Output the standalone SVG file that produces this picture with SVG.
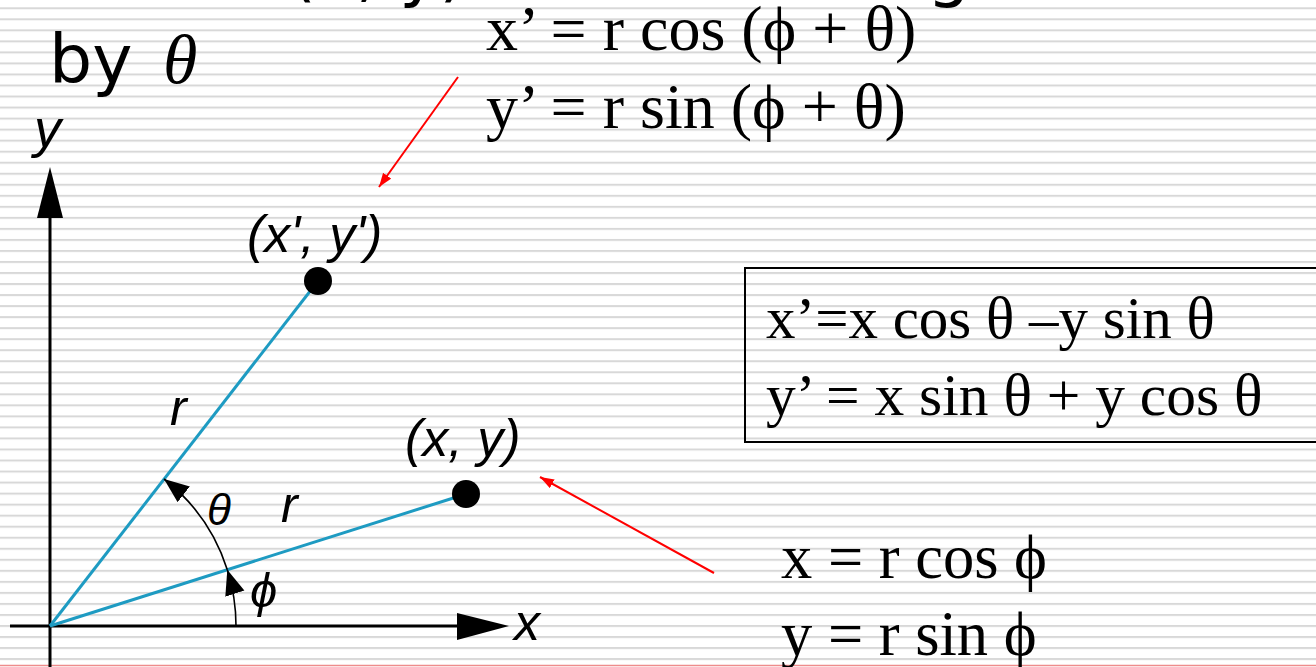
<svg xmlns="http://www.w3.org/2000/svg" width="1316" height="667" viewBox="0 0 1316 667">
  <defs>
    <pattern id="stripes" patternUnits="userSpaceOnUse" x="0" y="7.3" width="1316" height="11.03">
      <rect x="0" y="0" width="1316" height="2" fill="#d8d8d8"/>
    </pattern>
    <marker id="arcHead" markerUnits="userSpaceOnUse" markerWidth="28" markerHeight="22" refX="25" refY="10" orient="auto">
      <path d="M0,0 L25,10 L0,20 z" fill="#000"/>
    </marker>
    <marker id="redHead" markerUnits="userSpaceOnUse" markerWidth="16" markerHeight="12" refX="14" refY="5" orient="auto">
      <path d="M0,0 L14,5 L0,10 z" fill="#ff0000"/>
    </marker>
    <style>
      .title { font-family: "DejaVu Sans", Verdana, sans-serif; fill: #000; }
      .lbl { font-family: "Liberation Sans", Arial, sans-serif; font-style: italic; fill: #000; }
      .eq { font-family: "Liberation Serif", "Times New Roman", serif; fill: #000; }
      .ray { stroke: #1e9bc2; stroke-width: 3; fill: none; }
      .axis { stroke: #000; stroke-width: 3; fill: none; }
      .arc { stroke: #000; stroke-width: 1.6; fill: none; marker-end: url(#arcHead); }
      .red { stroke: #ff0000; stroke-width: 2; fill: none; marker-end: url(#redHead); }
    </style>
  </defs>

  <rect x="0" y="0" width="1316" height="667" fill="#ffffff"/>
  <rect x="0" y="0" width="1316" height="667" fill="url(#stripes)"/>
  <line x1="0" y1="665.5" x2="1316" y2="665.5" stroke="#ee8c8c" stroke-width="1.5"/>

  <g id="title">
    <text class="title" x="45" y="-6" font-size="68">Rotate (x, y) about the origin</text>
    <text class="title" x="49" y="83" font-size="68">by <tspan class="eq" font-style="italic" font-size="70" x="163">θ</tspan></text>
  </g>

  <g id="axes">
    <line class="axis" x1="50" y1="667" x2="50" y2="214"/>
    <polygon points="50,167 37,218 63,218" fill="#000"/>
    <line class="axis" x1="10" y1="626" x2="460" y2="626"/>
    <polygon points="509,626 457,613 457,640" fill="#000"/>
    <text class="lbl" x="34" y="147" font-size="54">y</text>
    <text class="lbl" x="514" y="640" font-size="52">x</text>
  </g>

  <g id="connectors">
    <line class="ray" x1="50" y1="626" x2="318" y2="281"/>
    <line class="ray" x1="50" y1="626" x2="466" y2="494"/>
    <path class="arc" d="M236,626 A186,186 0 0 0 227.3,569.8"/>
    <path class="arc" d="M227.3,569.8 A186,186 0 0 0 164,479"/>
    <line class="red" x1="458" y1="77" x2="379" y2="187"/>
    <line class="red" x1="714" y1="573" x2="540" y2="477"/>
  </g>

  <g id="point-rotated">
    <circle cx="318" cy="281" r="14" fill="#000"/>
    <text class="lbl" x="247" y="252" font-size="52">(x', y')</text>
  </g>

  <g id="point-original">
    <circle cx="466" cy="494" r="14" fill="#000"/>
    <text class="lbl" x="405" y="456" font-size="52">(x, y)</text>
  </g>

  <g id="angle-labels">
    <text class="lbl" x="170" y="425" font-size="50">r</text>
    <text class="lbl" x="281" y="522" font-size="50">r</text>
    <text class="lbl" x="207" y="525" font-size="44">θ</text>
    <text class="lbl" x="250" y="607" font-size="49">ϕ</text>
  </g>

  <g id="eq-rotated">
    <text class="eq" x="486" y="50" font-size="64">x’ = r cos (ϕ + θ)</text>
    <text class="eq" x="486" y="128" font-size="64">y’ = r sin (ϕ + θ)</text>
  </g>

  <g id="eq-box">
    <rect x="745" y="268" width="600" height="174" fill="none" stroke="#000" stroke-width="2"/>
    <text class="eq" x="766" y="338" font-size="59">x’=x cos θ –y sin θ</text>
    <text class="eq" x="766" y="415" font-size="59.5">y’ = x sin θ + y cos θ</text>
  </g>

  <g id="eq-original">
    <text class="eq" x="781" y="578" font-size="62.5">x = r cos ϕ</text>
    <text class="eq" x="781" y="655" font-size="62.5">y = r sin ϕ</text>
  </g>
</svg>
